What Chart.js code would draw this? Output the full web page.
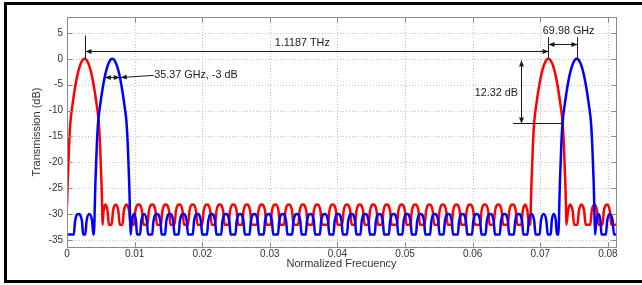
<!DOCTYPE html>
<html>
<head>
  <title>Transmission vs normalized frequency</title>
  <script src="https://cdn.jsdelivr.net/npm/chart.js"></script>
  <style>
    html, body { margin: 0; padding: 0; background: #fff; }
    .frame { position: relative; width: 642px; height: 285px; overflow: hidden; }
    .frame canvas { position: absolute; left: 0; top: 0; }
    .border {
      position: absolute; left: 4px; top: 2px; width: 660px; height: 275px;
      border-top: 3px solid #000; border-left: 3px solid #000; border-bottom: 3px solid #000;
      pointer-events: none;
    }
  </style>
</head>
<body>
  <div class="frame">
    <canvas id="grafica" width="642" height="285"></canvas>
    <div class="border"></div>
  </div>

  <script>
    // axes
    const xTicks = [0, 0.01, 0.02, 0.03, 0.04, 0.05, 0.06, 0.07, 0.08];
    const xTickLabels = ['0', '0.01', '0.02', '0.03', '0.04', '0.05', '0.06', '0.07', '0.08'];
    const yTicks = [-35, -30, -25, -20, -15, -10, -5, 0, 5];
    const yTickLabels = ['-35', '-30', '-25', '-20', '-15', '-10', '-5', '0', '5'];
    const xRange = [0, 0.0812];
    const yRange = [-36.4, 8.1];

    // [normalized frequency, transmission dB]
    const redTrace = [
      [0, -28.5], [0.0001, -24], [0.0003, -17], [0.0005, -12.3], [0.0008, -9], [0.0012, -5.5],
      [0.0016, -2.8], [0.0021, -0.7], [0.0026, 0], [0.0031, -0.7], [0.0036, -2.8], [0.0040, -5.5],
      [0.0044, -9], [0.0047, -12.3], [0.0049, -17], [0.0051, -24], [0.0052, -28.5], [0.00525, -32.1],
      [0.0054, -29.5], [0.0057, -28.2], [0.0060, -29.5], [0.0062, -32.1],
      [0.0066, -32.1], [0.0068, -29.5], [0.0072, -28.2], [0.0076, -29.5], [0.0078, -32.1],
      [0.0082, -32.1], [0.0084, -29.5], [0.0088, -28.2], [0.0092, -29.5], [0.0094, -32.1],
      [0.0099, -32.1], [0.0101, -29.5], [0.0106, -28.2], [0.0111, -29.5], [0.0113, -32.1],
      [0.0119, -32.1], [0.0121, -29.5], [0.0126, -28.2], [0.0131, -29.5], [0.0133, -32.1],
      [0.0139, -32.1], [0.0141, -29.5], [0.0146, -28.2], [0.0151, -29.5], [0.0153, -32.1],
      [0.0159, -32.1], [0.0161, -29.5], [0.0166, -28.2], [0.0171, -29.5], [0.0173, -32.1],
      [0.0179, -32.1], [0.0181, -29.5], [0.0186, -28.2], [0.0191, -29.5], [0.0193, -32.1],
      [0.0200, -32.1], [0.0202, -29.5], [0.0207, -28.2], [0.0212, -29.5], [0.0214, -32.1],
      [0.0219, -32.1], [0.0221, -29.5], [0.0226, -28.2], [0.0231, -29.5], [0.0233, -32.1],
      [0.0239, -32.1], [0.0241, -29.5], [0.0246, -28.2], [0.0251, -29.5], [0.0253, -32.1],
      [0.0259, -32.1], [0.0261, -29.5], [0.0266, -28.2], [0.0271, -29.5], [0.0273, -32.1],
      [0.0281, -32.1], [0.0283, -29.5], [0.0288, -28.2], [0.0293, -29.5], [0.0295, -32.1],
      [0.0301, -32.1], [0.0303, -29.5], [0.0308, -28.2], [0.0313, -29.5], [0.0315, -32.1],
      [0.0321, -32.1], [0.0323, -29.5], [0.0328, -28.2], [0.0333, -29.5], [0.0335, -32.1],
      [0.0342, -32.1], [0.0344, -29.5], [0.0349, -28.2], [0.0354, -29.5], [0.0356, -32.1],
      [0.0363, -32.1], [0.0365, -29.5], [0.0370, -28.2], [0.0375, -29.5], [0.0377, -32.1],
      [0.0386, -32.1], [0.0388, -29.5], [0.0393, -28.2], [0.0398, -29.5], [0.0400, -32.1],
      [0.0407, -32.1], [0.0409, -29.5], [0.0414, -28.2], [0.0419, -29.5], [0.0421, -32.1],
      [0.0426, -32.1], [0.0428, -29.5], [0.0433, -28.2], [0.0438, -29.5], [0.0440, -32.1],
      [0.0446, -32.1], [0.0448, -29.5], [0.0453, -28.2], [0.0458, -29.5], [0.0460, -32.1],
      [0.0466, -32.1], [0.0468, -29.5], [0.0473, -28.2], [0.0478, -29.5], [0.0480, -32.1],
      [0.0488, -32.1], [0.0490, -29.5], [0.0495, -28.2], [0.0500, -29.5], [0.0502, -32.1],
      [0.0508, -32.1], [0.0510, -29.5], [0.0515, -28.2], [0.0520, -29.5], [0.0522, -32.1],
      [0.0529, -32.1], [0.0531, -29.5], [0.0536, -28.2], [0.0541, -29.5], [0.0543, -32.1],
      [0.0549, -32.1], [0.0551, -29.5], [0.0556, -28.2], [0.0561, -29.5], [0.0563, -32.1],
      [0.0569, -32.1], [0.0571, -29.5], [0.0576, -28.2], [0.0581, -29.5], [0.0583, -32.1],
      [0.0589, -32.1], [0.0591, -29.5], [0.0596, -28.2], [0.0601, -29.5], [0.0603, -32.1],
      [0.0611, -32.1], [0.0613, -29.5], [0.0618, -28.2], [0.0623, -29.5], [0.0625, -32.1],
      [0.0631, -32.1], [0.0633, -29.5], [0.0638, -28.2], [0.0643, -29.5], [0.0645, -32.1],
      [0.0652, -32.1], [0.0654, -29.5], [0.0659, -28.2], [0.0664, -29.5], [0.0666, -32.1],
      [0.0672, -32.1], [0.0674, -29.5], [0.0678, -28.2], [0.0681, -29.5], [0.06835, -32.1],
      [0.06855, -32.1], [0.0686, -28.5], [0.0687, -24], [0.0689, -17], [0.0691, -12.3], [0.0694, -9],
      [0.0698, -5.5], [0.0702, -2.8], [0.0707, -0.7], [0.0712, 0], [0.0717, -0.7], [0.0722, -2.8],
      [0.0726, -5.5], [0.0730, -9], [0.0733, -12.3], [0.0735, -17], [0.0737, -24], [0.0738, -28.5],
      [0.07385, -32.1], [0.0741, -29.5], [0.0744, -28.2], [0.0748, -29.5], [0.0750, -32.1],
      [0.0755, -32.1], [0.0757, -29.5], [0.0761, -28.2], [0.0765, -29.5], [0.0767, -32.1],
      [0.0774, -32.1], [0.0776, -29.5], [0.0780, -28.2], [0.0784, -29.5], [0.0786, -32.1],
      [0.0792, -32.1], [0.0794, -29.5], [0.0798, -28.2], [0.0803, -29.5], [0.0805, -32.1],
      [0.0813, -32.1]
    ];

    const blueTrace = [
      [0, -34], [0.0010, -34], [0.0012, -31.3], [0.0017, -30], [0.0022, -31.3], [0.0024, -34],
      [0.0027, -34], [0.0029, -31.3], [0.0033, -30], [0.0037, -31.3], [0.0039, -34],
      [0.0040, -34], [0.0041, -29], [0.0042, -24], [0.0044, -17], [0.0046, -12.3], [0.0049, -9],
      [0.0053, -5.5], [0.0057, -2.8], [0.0062, -0.7], [0.0067, 0], [0.0072, -0.7], [0.0077, -2.8],
      [0.0081, -5.5], [0.0085, -9], [0.0088, -12.3], [0.0090, -17], [0.0092, -24], [0.0093, -29],
      [0.0094, -34], [0.0096, -31.3], [0.0099, -30], [0.0102, -31.3], [0.01035, -34],
      [0.0108, -34], [0.0110, -31.3], [0.0114, -30], [0.0118, -31.3], [0.0120, -34],
      [0.0126, -34], [0.0128, -31.3], [0.0133, -30], [0.0138, -31.3], [0.0140, -34],
      [0.0145, -34], [0.0147, -31.3], [0.0152, -30], [0.0157, -31.3], [0.0159, -34],
      [0.0165, -34], [0.0167, -31.3], [0.0172, -30], [0.0177, -31.3], [0.0179, -34],
      [0.0186, -34], [0.0188, -31.3], [0.0193, -30], [0.0198, -31.3], [0.0200, -34],
      [0.0207, -34], [0.0209, -31.3], [0.0214, -30], [0.0219, -31.3], [0.0221, -34],
      [0.0228, -34], [0.0230, -31.3], [0.0235, -30], [0.0240, -31.3], [0.0242, -34],
      [0.0249, -34], [0.0251, -31.3], [0.0256, -30], [0.0261, -31.3], [0.0263, -34],
      [0.0270, -34], [0.0272, -31.3], [0.0277, -30], [0.0282, -31.3], [0.0284, -34],
      [0.0291, -34], [0.0293, -31.3], [0.0298, -30], [0.0303, -31.3], [0.0305, -34],
      [0.0312, -34], [0.0314, -31.3], [0.0319, -30], [0.0324, -31.3], [0.0326, -34],
      [0.0333, -34], [0.0335, -31.3], [0.0340, -30], [0.0345, -31.3], [0.0347, -34],
      [0.0353, -34], [0.0355, -31.3], [0.0360, -30], [0.0365, -31.3], [0.0367, -34],
      [0.0374, -34], [0.0376, -31.3], [0.0381, -30], [0.0386, -31.3], [0.0388, -34],
      [0.0394, -34], [0.0396, -31.3], [0.0401, -30], [0.0406, -31.3], [0.0408, -34],
      [0.0414, -34], [0.0416, -31.3], [0.0421, -30], [0.0426, -31.3], [0.0428, -34],
      [0.0434, -34], [0.0436, -31.3], [0.0441, -30], [0.0446, -31.3], [0.0448, -34],
      [0.0455, -34], [0.0457, -31.3], [0.0462, -30], [0.0467, -31.3], [0.0469, -34],
      [0.0476, -34], [0.0478, -31.3], [0.0483, -30], [0.0488, -31.3], [0.0490, -34],
      [0.0496, -34], [0.0498, -31.3], [0.0503, -30], [0.0508, -31.3], [0.0510, -34],
      [0.0516, -34], [0.0518, -31.3], [0.0523, -30], [0.0528, -31.3], [0.0530, -34],
      [0.0537, -34], [0.0539, -31.3], [0.0544, -30], [0.0549, -31.3], [0.0551, -34],
      [0.0557, -34], [0.0559, -31.3], [0.0564, -30], [0.0569, -31.3], [0.0571, -34],
      [0.0578, -34], [0.0580, -31.3], [0.0585, -30], [0.0590, -31.3], [0.0592, -34],
      [0.0599, -34], [0.0601, -31.3], [0.0606, -30], [0.0611, -31.3], [0.0613, -34],
      [0.0619, -34], [0.0621, -31.3], [0.0626, -30], [0.0631, -31.3], [0.0633, -34],
      [0.0640, -34], [0.0642, -31.3], [0.0647, -30], [0.0652, -31.3], [0.0654, -34],
      [0.0661, -34], [0.0663, -31.3], [0.0668, -30], [0.0673, -31.3], [0.0675, -34],
      [0.0681, -34], [0.0683, -31.3], [0.0687, -30], [0.0691, -31.3], [0.0693, -34],
      [0.0699, -34], [0.0701, -31.3], [0.0705, -30], [0.0709, -31.3], [0.0711, -34],
      [0.07155, -34], [0.0717, -31.3], [0.0720, -30], [0.0723, -31.3], [0.07245, -34],
      [0.0727, -34], [0.0728, -29], [0.0729, -24], [0.0731, -17], [0.0733, -12.3], [0.0736, -9],
      [0.0740, -5.5], [0.0744, -2.8], [0.0749, -0.7], [0.0754, 0], [0.0759, -0.7], [0.0764, -2.8],
      [0.0768, -5.5], [0.0772, -9], [0.0775, -12.3], [0.0777, -17], [0.0779, -24], [0.0780, -29],
      [0.0781, -34], [0.0783, -31.3], [0.0786, -30], [0.0789, -31.3], [0.07905, -34],
      [0.0797, -34], [0.0799, -31.3], [0.0803, -30], [0.0807, -31.3], [0.0809, -34],
      [0.0813, -34]
    ];

    // annotations, in data units (frequency, dB)
    const peakSpacing = { from: 0.0026, to: 0.0712, level: 1.6, markTop: 4.5, text: '1.1187 THz', textAt: [0.0348, 3.1] };
    const channelSpacing = { from: 0.0712, to: 0.0754, level: 2.9, markTop: 4.2, text: '69.98 GHz', textAt: [0.0742, 5.4] };
    const isolation = { at: 0.0672, top: -0.3, bottom: -12.5, lineFrom: 0.0660, lineTo: 0.0733, text: '12.32 dB', textAt: [0.0635, -6.7] };
    const bandwidth = { from: 0.0056, to: 0.0078, level: -3.6, leaderEnd: [0.0128, -3.2], text: '35.37 GHz, -3 dB', textAt: [0.0129, -3.2] };

    Chart.defaults.font.family = '"Liberation Sans", Arial, sans-serif';
    Chart.defaults.color = '#333';

    function crisp(v) { return Math.round(v) + 0.5; }

    function line(ctx, x1, y1, x2, y2) {
      ctx.beginPath(); ctx.moveTo(x1, y1); ctx.lineTo(x2, y2); ctx.stroke();
    }

    function arrowHead(ctx, x, y, angle) {
      const len = 6, half = 2.5;
      ctx.save();
      ctx.translate(x, y); ctx.rotate(angle);
      ctx.beginPath(); ctx.moveTo(0, 0); ctx.lineTo(-len, -half); ctx.lineTo(-len, half); ctx.closePath();
      ctx.fill();
      ctx.restore();
    }

    const decoraciones = {
      id: 'decoraciones',
      beforeDatasetsDraw(chart) {
        const { ctx, chartArea: a, scales: { x, y } } = chart;
        ctx.save();
        ctx.strokeStyle = '#c4c4c4';
        ctx.lineWidth = 1;
        ctx.setLineDash([1, 2]);
        xTicks.forEach(v => { const px = crisp(x.getPixelForValue(v)); line(ctx, px, a.top, px, a.bottom); });
        yTicks.forEach(v => { const py = crisp(y.getPixelForValue(v)); line(ctx, a.left, py, a.right, py); });
        ctx.restore();
      },
      afterDatasetsDraw(chart) {
        const { ctx, chartArea: a, scales: { x, y } } = chart;
        const X = v => x.getPixelForValue(v);
        const Y = v => y.getPixelForValue(v);

        // axis box and inward ticks
        ctx.save();
        ctx.strokeStyle = '#8a8a8a';
        ctx.lineWidth = 1;
        const l = crisp(a.left), r = crisp(a.right), t = crisp(a.top), b = crisp(a.bottom);
        ctx.strokeRect(l, t, r - l, b - t);
        xTicks.forEach(v => { const px = crisp(X(v)); line(ctx, px, b, px, b - 5); line(ctx, px, t, px, t + 5); });
        yTicks.forEach(v => { const py = crisp(Y(v)); line(ctx, l, py, l + 5, py); line(ctx, r, py, r - 5, py); });
        ctx.restore();

        ctx.save();
        ctx.strokeStyle = '#1a1a1a';
        ctx.fillStyle = '#1a1a1a';
        ctx.lineWidth = 1;
        ctx.font = '10.8px "Liberation Sans", Arial, sans-serif';
        ctx.textAlign = 'center';
        ctx.textBaseline = 'middle';

        // 1.1187 THz
        let x1 = crisp(X(peakSpacing.from)), x2 = crisp(X(peakSpacing.to)), yy = crisp(Y(peakSpacing.level));
        line(ctx, x1, Y(0), x1, Y(peakSpacing.markTop));
        line(ctx, x1, yy, x2, yy);
        arrowHead(ctx, x1, yy, Math.PI);
        arrowHead(ctx, x2, yy, 0);
        ctx.fillText(peakSpacing.text, X(peakSpacing.textAt[0]), Y(peakSpacing.textAt[1]));

        // 69.98 GHz
        x1 = crisp(X(channelSpacing.from)); x2 = crisp(X(channelSpacing.to)); yy = crisp(Y(channelSpacing.level));
        line(ctx, x1, Y(0), x1, Y(channelSpacing.markTop));
        line(ctx, x2, Y(0), x2, Y(channelSpacing.markTop));
        line(ctx, x1, yy, x2, yy);
        arrowHead(ctx, x1, yy, Math.PI);
        arrowHead(ctx, x2, yy, 0);
        ctx.fillText(channelSpacing.text, X(channelSpacing.textAt[0]), Y(channelSpacing.textAt[1]));

        // 12.32 dB
        const xi = crisp(X(isolation.at));
        line(ctx, xi, Y(isolation.top), xi, Y(isolation.bottom));
        arrowHead(ctx, xi, Y(isolation.top), -Math.PI / 2);
        arrowHead(ctx, xi, Y(isolation.bottom), Math.PI / 2);
        yy = crisp(Y(isolation.bottom));
        line(ctx, X(isolation.lineFrom), yy, X(isolation.lineTo), yy);
        ctx.fillText(isolation.text, X(isolation.textAt[0]), Y(isolation.textAt[1]));

        // -3 dB bandwidth
        x1 = X(bandwidth.from); x2 = X(bandwidth.to); yy = crisp(Y(bandwidth.level));
        line(ctx, x1, yy, x2, yy);
        arrowHead(ctx, x1, yy, Math.PI);
        arrowHead(ctx, x2, yy, 0);
        const lx = X(bandwidth.leaderEnd[0]), ly = Y(bandwidth.leaderEnd[1]);
        line(ctx, x2 + 1, yy, lx, ly);
        arrowHead(ctx, x2 + 1, yy, Math.atan2(yy - ly, x2 + 1 - lx));
        ctx.textAlign = 'left';
        ctx.fillText(bandwidth.text, X(bandwidth.textAt[0]), Y(bandwidth.textAt[1]));
        ctx.restore();
      }
    };

    const ctx = document.getElementById('grafica').getContext('2d');
    new Chart(ctx, {
      type: 'line',
      data: {
        datasets: [
          {
            label: 'Canal 2',
            data: blueTrace.map(([f, t]) => ({ x: f, y: t })),
            borderColor: '#0000ff',
            borderWidth: 2.5,
            pointRadius: 0,
            cubicInterpolationMode: 'monotone',
            fill: false
          },
          {
            label: 'Canal 1',
            data: redTrace.map(([f, t]) => ({ x: f, y: t })),
            borderColor: '#ff0000',
            borderWidth: 2.5,
            pointRadius: 0,
            cubicInterpolationMode: 'monotone',
            fill: false
          }
        ]
      },
      options: {
        responsive: false,
        animation: false,
        events: [],
        layout: { padding: { left: 0, right: 26, top: 17, bottom: 0 } },
        plugins: { legend: { display: false }, tooltip: { enabled: false } },
        scales: {
          x: {
            type: 'linear',
            min: xRange[0],
            max: xRange[1],
            afterBuildTicks: s => { s.ticks = xTicks.map(v => ({ value: v })); },
            afterFit: s => { s.height = 38; },
            grid: { display: false, drawTicks: false },
            border: { display: false },
            ticks: {
              autoSkip: false,
              maxRotation: 0,
              padding: 1,
              color: '#333',
              font: { size: 10 },
              callback: (v, i) => xTickLabels[i]
            },
            title: {
              display: true,
              text: 'Normalized Frecuency',
              color: '#333',
              font: { size: 11 },
              padding: { top: 0, bottom: 14 }
            }
          },
          y: {
            type: 'linear',
            min: yRange[0],
            max: yRange[1],
            afterBuildTicks: s => { s.ticks = yTicks.map(v => ({ value: v })); },
            afterFit: s => { s.width = 67; },
            grid: { display: false, drawTicks: false },
            border: { display: false },
            ticks: {
              autoSkip: false,
              padding: 4,
              color: '#333',
              font: { size: 10 },
              callback: (v, i) => yTickLabels[i]
            },
            title: {
              display: true,
              text: 'Transmission (dB)',
              color: '#333',
              font: { size: 11 },
              padding: { top: 30, bottom: 0 }
            }
          }
        }
      },
      plugins: [decoraciones]
    });
  </script>
</body>
</html>
